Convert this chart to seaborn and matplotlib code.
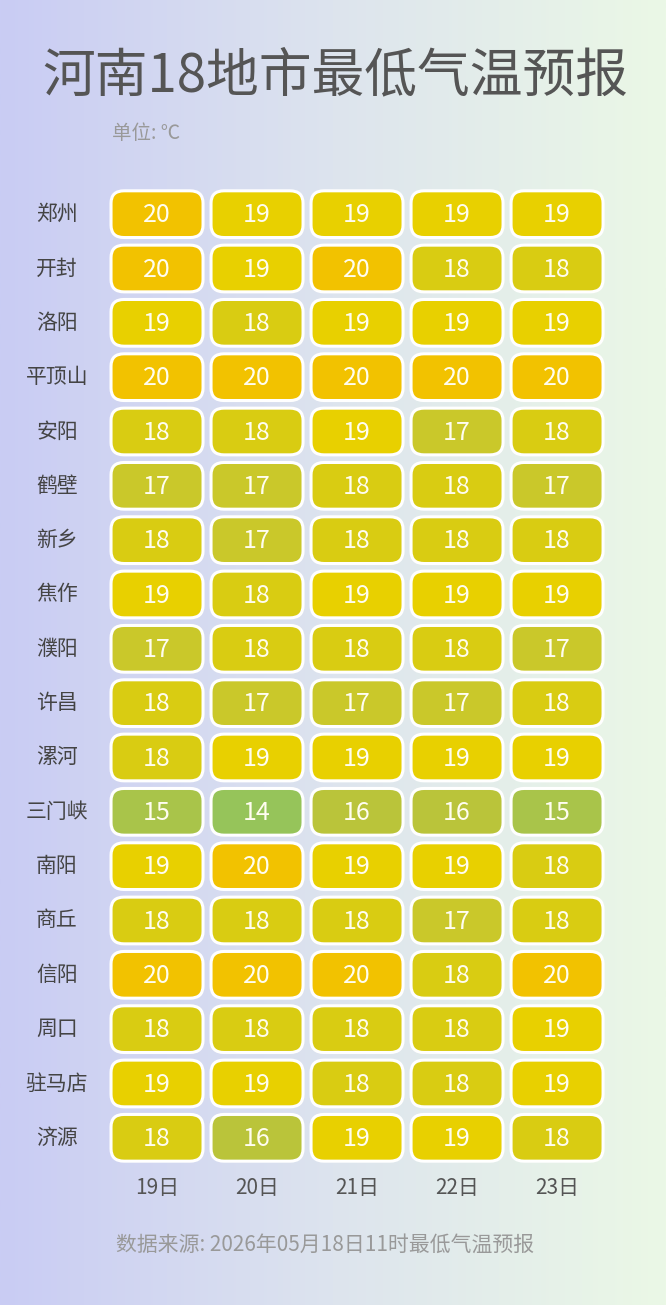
import numpy as np
import seaborn as sns
import matplotlib.pyplot as plt
from matplotlib.patches import FancyBboxPatch
from matplotlib.colors import LinearSegmentedColormap, Normalize

sns.set_theme(style="white")
plt.rcParams["font.family"] = ["Noto Sans CJK SC", "DejaVu Sans"]

cities = ["郑州", "开封", "洛阳", "平顶山", "安阳", "鹤壁", "新乡", "焦作", "濮阳",
          "许昌", "漯河", "三门峡", "南阳", "商丘", "信阳", "周口", "驻马店", "济源"]
days = ["19日", "20日", "21日", "22日", "23日"]
temps = [
    [20, 19, 19, 19, 19],
    [20, 19, 20, 18, 18],
    [19, 18, 19, 19, 19],
    [20, 20, 20, 20, 20],
    [18, 18, 19, 17, 18],
    [17, 17, 18, 18, 17],
    [18, 17, 18, 18, 18],
    [19, 18, 19, 19, 19],
    [17, 18, 18, 18, 17],
    [18, 17, 17, 17, 18],
    [18, 19, 19, 19, 19],
    [15, 14, 16, 16, 15],
    [19, 20, 19, 19, 18],
    [18, 18, 18, 17, 18],
    [20, 20, 20, 18, 20],
    [18, 18, 18, 18, 19],
    [19, 19, 18, 18, 19],
    [18, 16, 19, 19, 18],
]

cmap = LinearSegmentedColormap.from_list(
    "temp", ["#96c45a", "#a9c44a", "#bac43a", "#cac82a", "#d9cc12", "#e8d000", "#f2c200"])
norm = Normalize(vmin=14, vmax=20)

fig = plt.figure(figsize=(6.66, 13.05), dpi=100)

# background gradient
bg = fig.add_axes([0, 0, 1, 1], zorder=0)
grad = np.linspace(0, 1, 256).reshape(1, -1)
bg.imshow(grad, aspect="auto", extent=[0, 1, 0, 1],
          cmap=LinearSegmentedColormap.from_list("bg", ["#c9ccf4", "#dde4ee", "#ebf8e6"]))
bg.axis("off")

ax = fig.add_axes([0.1607, 0.1073, 0.7508, 0.7494], zorder=1)
ax.set_xlim(0, len(days))
ax.set_ylim(len(cities), 0)
ax.patch.set_alpha(0)
for s in ax.spines.values():
    s.set_visible(False)

bw, bh = 0.92, 0.86
for i, row in enumerate(temps):
    for j, v in enumerate(row):
        p = FancyBboxPatch((j + (1 - bw) / 2, i + (1 - bh) / 2), bw, bh,
                           boxstyle="round,pad=0,rounding_size=0.13", mutation_aspect=1.75,
                           facecolor=cmap(norm(v)), edgecolor="white", linewidth=2.2)
        ax.add_patch(p)
        ax.text(j + 0.5, i + 0.52, str(v), ha="center", va="center",
                fontsize=18, color="#fffdf0")

ax.set_xticks(np.arange(len(days)) + 0.5)
ax.set_xticklabels(days, fontsize=15, color="#555555")
ax.set_yticks(np.arange(len(cities)) + 0.5)
ax.set_yticklabels([])
ax.tick_params(length=0, pad=9)
for i, c in enumerate(cities):
    ax.text(-0.5, i + 0.5, c, ha="center", va="center", fontsize=15, color="#444444")

fig.text(0.503, 0.942, "河南18地市最低气温预报", ha="center", va="center",
         fontsize=38, color="#555555")
fig.text(0.168, 0.898, "单位: ℃", ha="left", va="center", fontsize=14, color="#999999")
fig.text(0.488, 0.046, "数据来源: 2026年05月18日11时最低气温预报", ha="center", va="center",
         fontsize=15, color="#999999")

fig.savefig("out.png", dpi=100)
